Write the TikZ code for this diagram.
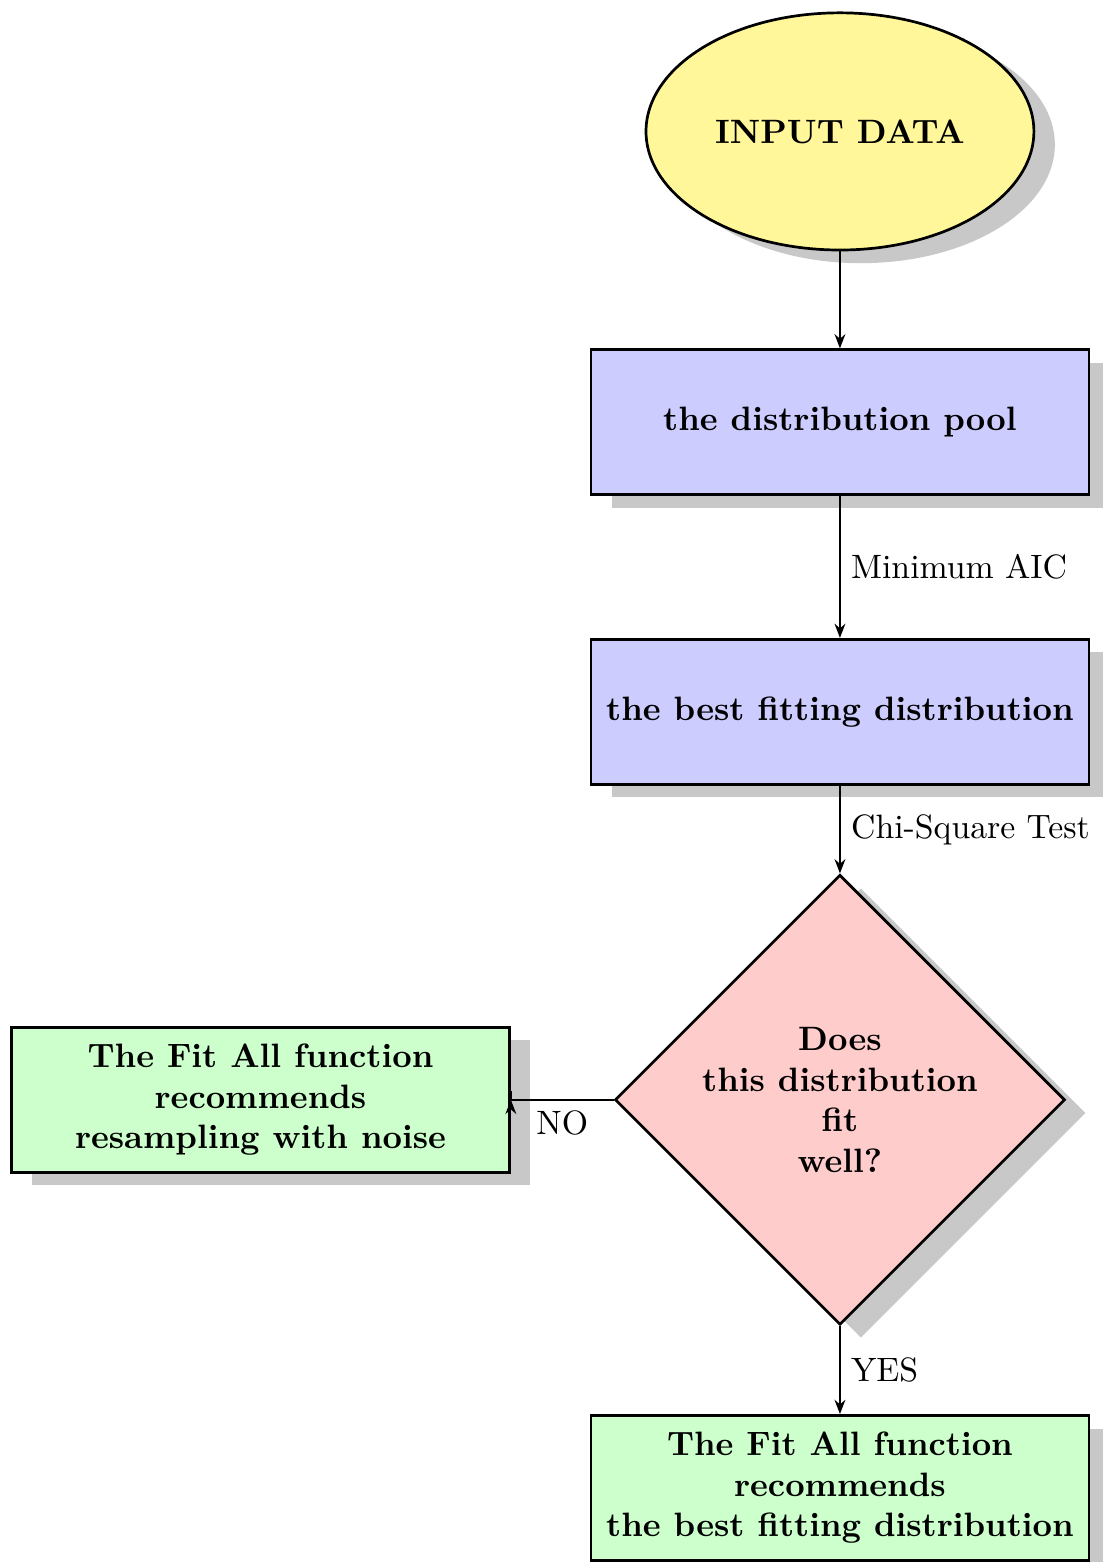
\documentclass[tikz,border=0pt]{standalone}
\usepackage{tikz}
\usetikzlibrary{arrows.meta, positioning, shapes.geometric, shadows}
\definecolor{fityellow}{HTML}{FFF79A}
\definecolor{fitblue}{HTML}{CCCCFF}
\definecolor{fitred}{HTML}{FFCCCC}
\definecolor{fitgreen}{HTML}{CCFFCC}
\definecolor{fitshadow}{HTML}{C8C8C8}
\tikzset{
  >={Stealth[length=4.2pt, width=3.2pt]},
  shad/.style={drop shadow={shadow xshift=6.2pt, shadow yshift=-3.9pt, opacity=1, fill=fitshadow}},
  box/.style={rectangle, draw=black, thick, fill=fitblue, shad,
              align=center, minimum width=147.4pt, minimum height=42.9pt,
              inner sep=2pt, font=\bfseries},
  boxg/.style={box, fill=fitgreen},
  startnode/.style={ellipse, draw=black, thick, fill=fityellow, shad,
              minimum width=114.8pt, minimum height=70.2pt, inner sep=0pt, font=\bfseries},
  decide/.style={diamond, draw=black, thick, fill=fitred, shad, aspect=1,
              minimum width=133.2pt, minimum height=133.2pt, inner sep=0pt,
              align=center, font=\bfseries},
  flow/.style={->, semithick},
  lbl/.style={inner sep=3pt},
}

\begin{document}
\begin{tikzpicture}
  % frame taken from the page size
  \useasboundingbox (-248.6pt,38.9pt) rectangle (77.8pt,-423.4pt);

  \node[startnode] (input) at (0,0) {INPUT DATA};
  \node[box, below=28.7pt of input] (pool) {the distribution pool};
  \node[box, below=42.0pt of pool] (best) {the best fitting distribution};
  \node[decide, below=26.0pt of best] (check) {Does\\this distribution\\fit\\well?};
  \node[boxg, below=26.0pt of check] (keep) {The Fit All function\\recommends\\the best fitting distribution};
  \node[boxg, left=30.4pt of check] (noise) {The Fit All function\\recommends\\resampling with noise};

  \draw[flow] (input) -- (pool);
  \draw[flow] (pool) -- node[right, lbl]{Minimum AIC} (best);
  \draw[flow] (best) -- node[right, lbl]{Chi-Square Test} (check);
  \draw[flow] (check) -- node[right, lbl]{YES} (keep);
  \draw[flow] (check.west) -| node[pos=0.25, below, lbl]{NO} (noise.east);
\end{tikzpicture}
\end{document}
